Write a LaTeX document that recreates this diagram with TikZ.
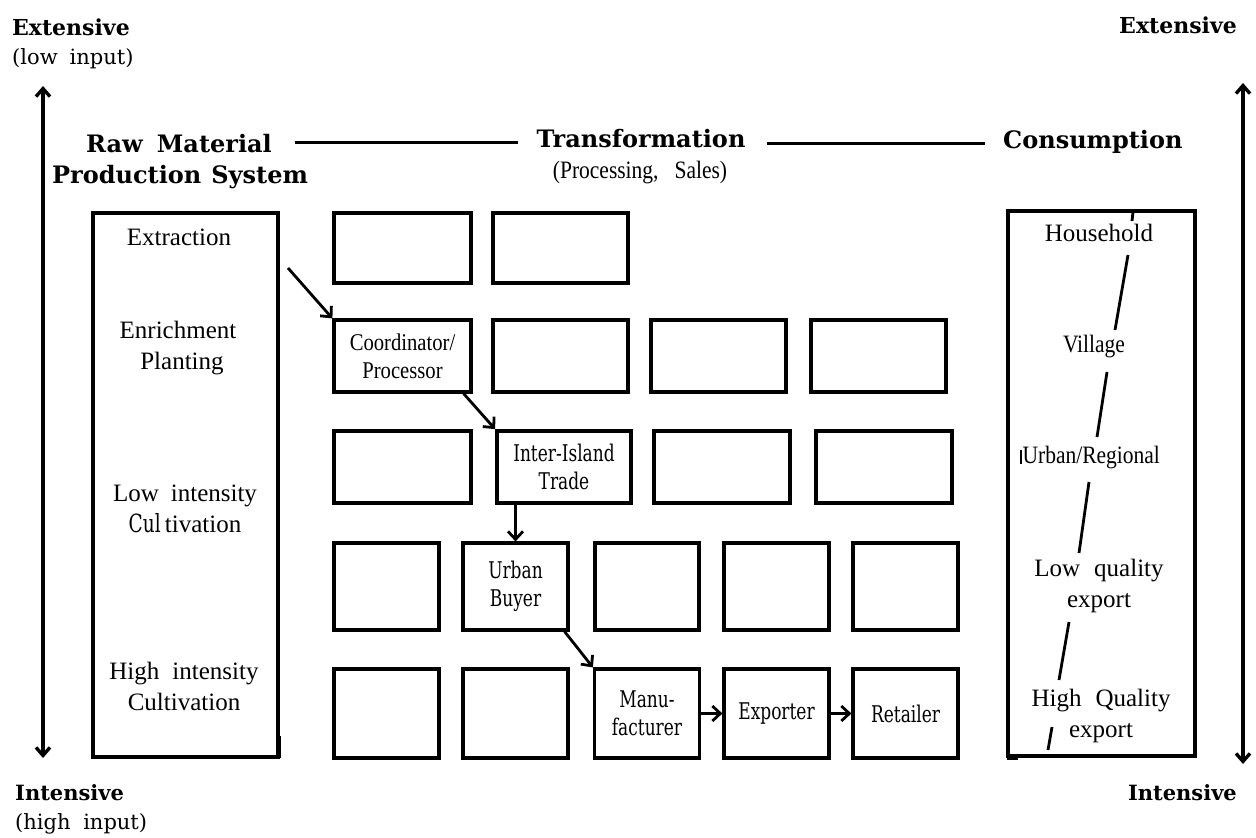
\documentclass[tikz,border=0pt]{standalone}
\usepackage{fontspec}
\setmainfont{Liberation Serif}
\newfontfamily\condfont{Liberation Serif}[FakeStretch=0.86]
\newfontfamily\lucfont{DejaVu Serif}[FakeStretch=0.74]
\newfontfamily\hdfont{DejaVu Serif}
\usetikzlibrary{arrows.meta}
\begin{document}
\begin{tikzpicture}[x=1pt,y=-1pt,
 box/.style={draw, line width=3.2pt, inner sep=0pt, align=center},
 bigbox/.style={draw, line width=3.6pt, inner sep=0pt},
 tm/.style={inner sep=0pt, align=center, font=\fontsize{25}{31}\selectfont},
 cond/.style={inner sep=0pt, align=center, font=\condfont\fontsize{24}{28}\selectfont},
 luc/.style={font=\lucfont\fontsize{23}{28}\selectfont},
 hd/.style={inner sep=0pt, font=\hdfont\bfseries\fontsize{22}{26}\selectfont},
 hdb/.style={inner sep=0pt, font=\hdfont\bfseries\fontsize{24}{28}\selectfont},
 sub/.style={inner sep=0pt, font=\hdfont\fontsize{21}{26}\selectfont},
 arr/.style={line width=2.8pt, -{Straight Barb[length=8pt,width=15pt]}},
 vert/.style={line width=3.4pt, {Straight Barb[length=8pt,width=14pt]}-{Straight Barb[length=8pt,width=14pt]}},
 hline/.style={line width=3pt},
 tick/.style={line width=2.8pt}
]
\useasboundingbox (0,0) rectangle (1256,838);

% ---- side labels and vertical arrows
\node[hd, anchor=base west] (extl) at (12,35) {Extensive};
\node[sub, anchor=base west] (lowin) at (12,64) {(low\hspace{12pt}input)};
\node[hd, anchor=base east] (extr) at (1237,33) {Extensive};
\node[hd, anchor=base west, font=\hdfont\bfseries\fontsize{21}{26}\selectfont] (intl) at (15,800) {Intensive};
\node[sub, anchor=base west] (hiin) at (15,829) {(high\hspace{6pt} input)};
\node[hd, anchor=base east, font=\hdfont\bfseries\fontsize{21}{26}\selectfont] (intr) at (1237,800) {Intensive};
\coordinate (lat) at (43,86);
\coordinate (lab) at (43,758);
\coordinate (rat) at (1243,83);
\coordinate (rab) at (1243,764);
\draw[vert] (lat) -- (lab);
\draw[vert] (rat) -- (rab);

% ---- headings
\node[hdb, anchor=base east] (raw) at (272,152) {Raw\hspace{14pt}Material};
\node[hdb, anchor=base west] (prod) at (52,183) {Production\hspace{10pt}System};
\node[hdb, anchor=base] (trans) at (641,147) {Transformation};
\node[cond, anchor=base, font=\condfont\fontsize{25}{28}\selectfont] (proc) at (640,178) {(Processing,\hspace{16pt}Sales)};
\node[hdb, anchor=base west] (cons) at (1003,148) {Consumption};
\coordinate (h1a) at (295,142);
\coordinate (h1b) at (518,142);
\coordinate (h2a) at (767,143);
\coordinate (h2b) at (985,143);
\draw[hline] (h1a) -- (h1b);
\draw[hline] (h2a) -- (h2b);

% ---- left box
\node[bigbox, minimum width=185pt, minimum height=544pt] (rawbox) at (185.5,485) {};
\draw[line width=5pt] (278,736) -- (278,758);
\node[tm] (ext) at (179,237) {Extraction};
\node[tm] (enr) at (178,348) {Enrichment\\\hspace{8pt}Planting};
\node[tm] (low) at (185,509) {Low\hspace{12pt}intensity\\{\lucfont Cul}\,tivation};
\node[tm] (high) at (184,686) {High\hspace{13pt}intensity\\Cultivation};

% ---- right box
\node[bigbox, minimum width=187pt, minimum height=545pt] (consbox) at (1101.5,483.5) {};
\draw[line width=5pt] (1007,757) -- (1018,757);
\node[tm] (hh) at (1099,233) {Household};
\node[cond, font=\condfont\fontsize{25}{28}\selectfont] (vil) at (1094,347) {Village};
\node[cond, font=\condfont\fontsize{25}{28}\selectfont] (urb) at (1090,458) {\rule{1.5pt}{14pt}\hspace{1pt}Urban/Regional};
\node[tm] (lq) at (1099,586) {Low\hspace{14pt}quality\\export};
\node[tm] (hq) at (1101,716) {High\hspace{14pt}Quality\\export};
\coordinate (s0a) at (1133,212); \coordinate (s0b) at (1132,221);
\coordinate (s1a) at (1128,255); \coordinate (s1b) at (1115,330);
\coordinate (s2a) at (1107,372); \coordinate (s2b) at (1097,437);
\coordinate (s3a) at (1089,482); \coordinate (s3b) at (1079,553);
\coordinate (s4a) at (1069,622); \coordinate (s4b) at (1059,680);
\coordinate (s5a) at (1052,727); \coordinate (s5b) at (1048,750);
\draw[tick] (s0a) -- (s0b);
\draw[tick] (s1a) -- (s1b);
\draw[tick] (s2a) -- (s2b);
\draw[tick] (s3a) -- (s3b);
\draw[tick] (s4a) -- (s4b);
\draw[tick] (s5a) -- (s5b);

% ---- grid of boxes
\node[box, minimum width=137pt, minimum height=70pt] (r1a) at (402.5,248) {};
\node[box, minimum width=135pt, minimum height=70pt] (r1b) at (560.5,248) {};

\node[box, cond, minimum width=137pt, minimum height=72pt] (r2a) at (402.5,356) {Coordinator/\\Processor};
\node[box, minimum width=135pt, minimum height=72pt] (r2b) at (560.5,356) {};
\node[box, minimum width=135pt, minimum height=72pt] (r2c) at (718.5,356) {};
\node[box, minimum width=135pt, minimum height=72pt] (r2d) at (878.5,356) {};

\node[box, minimum width=137pt, minimum height=72pt] (r3a) at (402.5,467) {};
\node[box, luc, line width=3.8pt, minimum width=134pt, minimum height=72pt] (r3b) at (564,467) {Inter-Island\\Trade};
\node[box, minimum width=136pt, minimum height=72pt] (r3c) at (722,467) {};
\node[box, minimum width=136pt, minimum height=72pt] (r3d) at (884,467) {};

\node[box, minimum width=105pt, minimum height=87pt] (r4a) at (386.5,586.5) {};
\node[box, luc, minimum width=105pt, minimum height=87pt] (r4b) at (515.5,586.5) {Urban\\Buyer};
\node[box, minimum width=104pt, minimum height=87pt] (r4c) at (647,586.5) {};
\node[box, minimum width=105pt, minimum height=87pt] (r4d) at (776.5,586.5) {};
\node[box, minimum width=105pt, minimum height=87pt] (r4e) at (905.5,586.5) {};

\node[box, minimum width=105pt, minimum height=89pt] (r5a) at (386.5,713.5) {};
\node[box, minimum width=105pt, minimum height=89pt] (r5b) at (515.5,713.5) {};
\node[box, luc, minimum width=105pt, minimum height=89pt] (r5c) at (647,713.5) {Manu-\\facturer};
\node[box, luc, minimum width=105pt, minimum height=89pt] (r5d) at (776.5,713.5) {Exporter};
\node[box, luc, minimum width=105pt, minimum height=89pt] (r5e) at (905.5,713.5) {Retailer};

% ---- flow arrows
\coordinate (exs) at (288,268);
\draw[arr] (exs) -- (r2a.north west);
\draw[arr] ([xshift=-9pt]r2a.south east) -- (r3b.north west);
\draw[arr] (r4b.north |- r3b.south) -- (r4b.north);
\draw[arr] ([xshift=-5pt]r4b.south east) -- (r5c.north west);
\draw[arr] (r5c.east) -- (r5d.west);
\draw[arr] (r5d.east) -- (r5e.west);
\end{tikzpicture}
\end{document}
